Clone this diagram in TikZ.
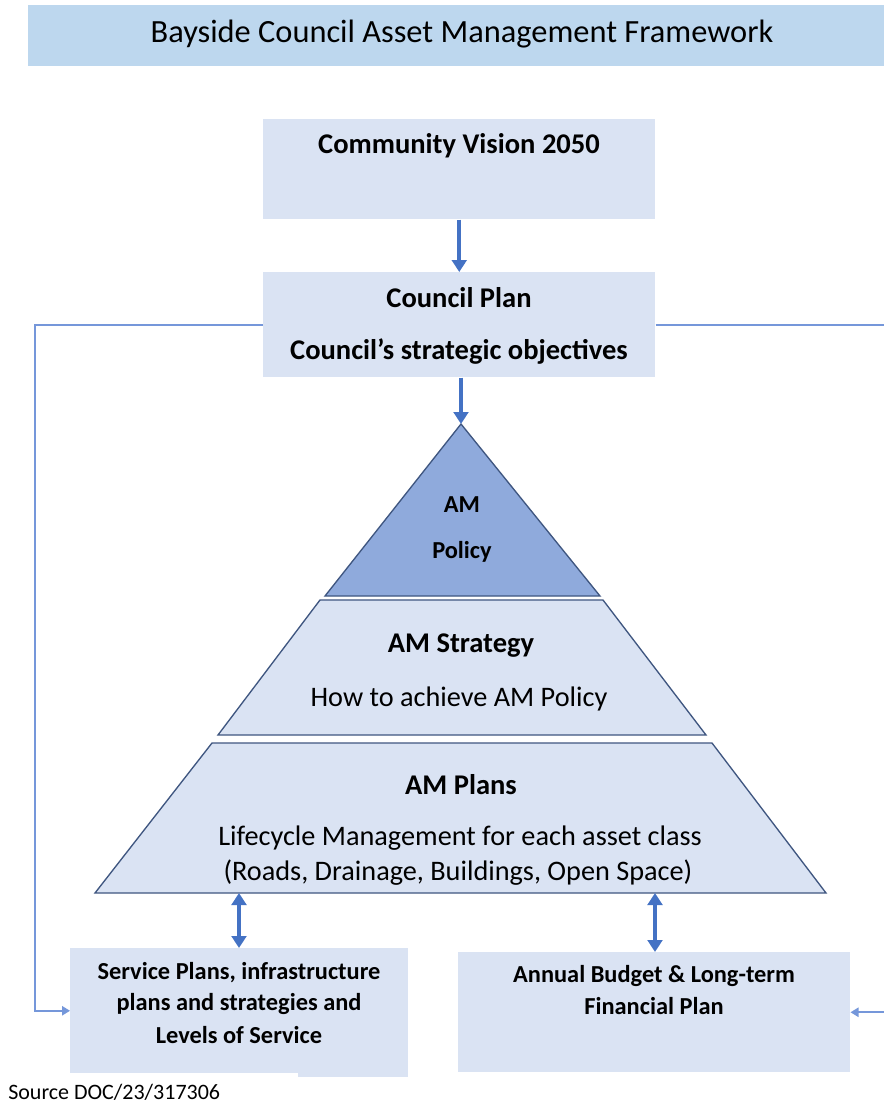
\documentclass[tikz,border=0pt]{standalone}
\usepackage{fontspec}
\setmainfont{Carlito}
\usetikzlibrary{arrows.meta}
\definecolor{titlefill}{HTML}{BDD7EE}
\definecolor{boxfill}{HTML}{DAE3F3}
\definecolor{polfill}{HTML}{8FAADC}
\definecolor{arrowblue}{HTML}{4472C4}
\definecolor{linkblue}{HTML}{7597DA}
\definecolor{edgeblue}{HTML}{3F5680}
\tikzset{
  box/.style={fill=boxfill, draw=none, inner sep=0pt, anchor=north west},
  tier/.style={fill=boxfill, draw=edgeblue, line width=1pt, line join=miter},
  bigarrow/.style={draw=arrowblue, line width=3pt, -{Triangle[width=11pt,length=9pt]}},
  dblarrow/.style={draw=arrowblue, line width=3pt, {Triangle[width=11pt,length=9pt]}-{Triangle[width=11pt,length=9pt]}},
  link/.style={draw=linkblue, line width=1.2pt, -{Triangle[width=7pt,length=6pt]}},
  lbl/.style={inner sep=0pt, align=center, text=black},
  fA/.style={font=\fontsize{21.4}{24}\selectfont\bfseries},
  fB/.style={font=\fontsize{21.2}{24}\selectfont},
  fC/.style={font=\fontsize{18.3}{21}\selectfont\bfseries},
}
\begin{document}
\begin{tikzpicture}[x=0.75pt,y=-0.75pt]
\useasboundingbox (0,0) rectangle (883,1104);
\fill[white] (0,0) rectangle (883,1104);

% title
\node[box, fill=titlefill, minimum width=646.5pt, minimum height=45.75pt] (title) at (28,5) {};
\node[lbl, font=\fontsize{24.3}{28}\selectfont] (titletext) at (462,34) {Bayside\ Council\ Asset\ Management\ Framework};

% top boxes
\node[box, minimum width=294pt, minimum height=75pt] (vision) at (263,119) {};
\node[lbl, fA] (visiontext) at (459,146) {Community Vision 2050};
\node[box, minimum width=294pt, minimum height=78.75pt] (council) at (263,272) {};
\node[lbl, fA] (counciltext1) at (459,298) {Council Plan};
\node[lbl, fA] (counciltext2) at (459,352) {Council’s strategic objectives};

% pyramid
\coordinate (apex) at (461,424);
\path[tier, fill=polfill] (apex) -- (600,596) -- (325,596) -- cycle;
\path[tier] (320,600) -- (603,600) -- (706,735) -- (218,735) -- cycle;
\path[tier] (212,743) -- (712,743) -- (826,893) -- (95,893) -- cycle;
\node[lbl, fC] (poltext1) at (462,505) {AM};
\node[lbl, fC] (poltext2) at (462,552) {Policy};
\node[lbl, fA] (strattext1) at (461,646) {AM Strategy};
\node[lbl, fB] (strattext2) at (459,699) {How to achieve AM Policy};
\node[lbl, fA] (planstext1) at (461,785) {AM Plans};
\node[lbl, fB] (planstext2) at (460,838) {Lifecycle Management for each asset class};
\node[lbl, fB] (planstext3) at (458,873) {(Roads, Drainage, Buildings, Open Space)};
\coordinate (baseL) at (239,893);
\coordinate (baseR) at (655,893);

% bottom boxes
\node[box, minimum width=253.5pt, minimum height=93.75pt] (service) at (70,948) {};
\fill[boxfill] (298,1070) rectangle (408,1077);
\node[lbl, fC] (servicetext1) at (239,973) {Service Plans, infrastructure};
\node[lbl, fC] (servicetext2) at (239,1004) {plans and strategies and};
\node[lbl, fC] (servicetext3) at (239,1035) {Levels of Service};
\node[box, minimum width=294pt, minimum height=90pt] (budget) at (458,952) {};
\node[lbl, fC] (budgettext1) at (654,976) {Annual Budget \& Long-term};
\node[lbl, fC] (budgettext2) at (654,1006) {Financial Plan};

\node[lbl, anchor=west, font=\fontsize{16.5}{19}\selectfont] (source) at (8,1092) {Source DOC/23/317306};

% connectors
\draw[bigarrow] (vision.south) -- (council.north);
\draw[bigarrow] (council.south -| apex) -- (apex);
\draw[dblarrow] (baseL) -- (service.north -| baseL);
\draw[dblarrow] (baseR) -- (budget.north -| baseR);
\draw[link] (council.west) -- ++(-228,0) |- (service.west);
\draw[link] (council.east) -- ++(245,0) |- (budget.east);
\end{tikzpicture}
\end{document}
